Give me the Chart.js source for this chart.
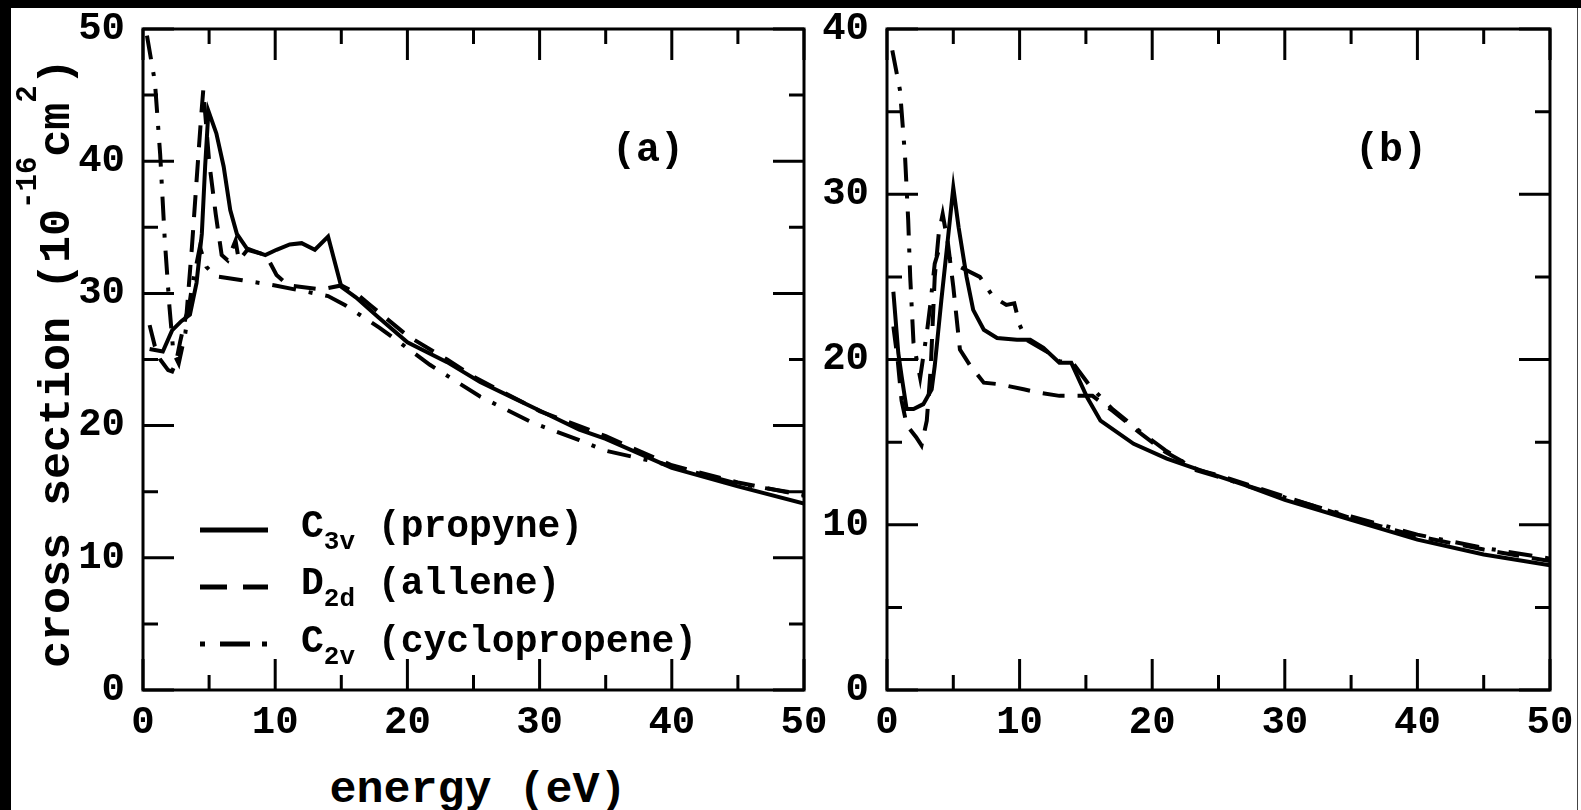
<!DOCTYPE html>
<html>
<head>
<meta charset="utf-8">
<script src="https://cdn.jsdelivr.net/npm/chart.js@4.4.0/dist/chart.umd.min.js"></script>
<style>
body{margin:0;width:1581px;height:810px;overflow:hidden;background:#fff;position:relative;font-family:"Liberation Mono",monospace;font-weight:bold;color:#000}
#topbar{position:absolute;left:0;top:0;width:1581px;height:8px;background:#000}
#leftbar{position:absolute;left:0;top:0;width:11px;height:810px;background:#000}
#rightline{position:absolute;left:1577px;top:8px;width:1px;height:802px;background:#444}
canvas{position:absolute;top:0}
#chartA{left:0}
#chartB{left:800px}
.txt{position:absolute;white-space:nowrap;line-height:1}
.sup{font-size:29px;position:relative;top:-33px}
.sub{font-size:26px;position:relative;top:12px}
.leg{position:absolute;left:200px}
</style>
</head>
<body>
<canvas id="chartA" width="850" height="760"></canvas>
<canvas id="chartB" width="781" height="760"></canvas>
<div id="topbar"></div>
<div id="leftbar"></div>
<div id="rightline"></div>

<div class="txt" style="left:35px;top:668px;font-size:45px;transform-origin:0 0;transform:rotate(-90deg)">cross section (10<span class="sup">-16</span>cm<span class="sup">2</span>)</div>
<div class="txt" style="left:478px;top:790px;font-size:45px;transform:translate(-50%,-50%)">energy (eV)</div>
<div class="txt" style="left:648px;top:151px;font-size:40px;transform:translate(-50%,-50%)">(a)</div>
<div class="txt" style="left:1391px;top:151px;font-size:40px;transform:translate(-50%,-50%)">(b)</div>

<!-- legend in panel (a) -->
<svg class="leg" style="top:525px" width="70" height="10"><line x1="0" y1="5" x2="68" y2="5" stroke="#000" stroke-width="5"/></svg>
<svg class="leg" style="top:582px" width="70" height="10"><line x1="0" y1="5" x2="68" y2="5" stroke="#000" stroke-width="5" stroke-dasharray="27 16"/></svg>
<svg class="leg" style="top:639px" width="70" height="10"><line x1="0" y1="5" x2="68" y2="5" stroke="#000" stroke-width="5" stroke-dasharray="5 15 30 12 5 100"/></svg>
<div class="txt" style="left:301px;top:508px;font-size:38px">C<span class="sub">3v</span> (propyne)</div>
<div class="txt" style="left:301px;top:565px;font-size:38px">D<span class="sub">2d</span> (allene)</div>
<div class="txt" style="left:301px;top:623px;font-size:38px">C<span class="sub">2v</span> (cyclopropene)</div>

<script>
// panel (a)
const aPropyneX = [0.5, 1.5, 2.2, 2.9, 3.55, 4.05, 4.45, 4.7, 4.95, 5.55, 6.1, 6.6, 7.1, 7.85, 8.4, 9.25, 10.1, 11.1, 12.0, 13.0, 14.0, 15.0, 16.1, 17.8, 20.0, 23.0, 25.5, 28.0, 30.5, 33.0, 35.0, 40.0, 45.0, 50.0];
const aPropyneY = [25.8, 25.6, 27.2, 27.9, 28.4, 30.8, 34.5, 39.6, 43.8, 42.1, 39.6, 36.3, 34.5, 33.4, 33.2, 32.9, 33.3, 33.7, 33.8, 33.3, 34.3, 30.5, 29.7, 28.2, 26.3, 24.8, 23.3, 22.1, 20.9, 19.7, 19.0, 16.8, 15.4, 14.1];
const aAlleneX = [0.5, 0.9, 1.3, 1.9, 2.2, 2.5, 2.8, 3.3, 3.7, 4.05, 4.4, 4.56, 5.0, 5.5, 5.95, 6.4, 7.0, 7.25, 7.9, 9.3, 10.1, 11.0, 13.5, 15.0, 16.0, 17.2, 20.0, 23.0, 25.0, 30.0, 35.0, 40.0, 45.0, 50.0];
const aAlleneY = [27.6, 26.0, 25.0, 24.2, 24.1, 24.8, 26.3, 28.5, 33.5, 38.5, 43.4, 45.4, 40.0, 36.0, 32.9, 32.5, 34.0, 32.5, 33.3, 32.9, 31.4, 30.6, 30.3, 30.6, 30.1, 29.1, 26.8, 25.0, 23.7, 21.1, 19.2, 17.0, 15.7, 14.7];
const aCycloX = [0.3, 0.9, 1.3, 1.65, 2.0, 2.3, 2.7, 3.2, 3.7, 4.3, 4.8, 5.5, 7.5, 10.0, 12.0, 14.0, 15.3, 17.9, 21.7, 25.5, 29.5, 33.0, 35.0, 39.0, 45.0, 50.0];
const aCycloY = [49.5, 46.0, 40.5, 34.0, 29.0, 25.5, 24.7, 27.0, 30.5, 33.5, 32.0, 31.3, 31.0, 30.6, 30.2, 29.8, 29.1, 27.4, 24.6, 22.2, 20.2, 18.9, 18.1, 17.2, 15.6, 14.8];

// panel (b)
const bPropyneX = [0.48, 0.85, 1.1, 1.48, 2.0, 2.74, 3.37, 3.6, 4.1, 4.5, 5.0, 5.4, 6.0, 6.5, 7.3, 8.3, 9.8, 10.8, 11.8, 13.0, 13.9, 15.1, 16.1, 18.6, 21.1, 23.6, 27.0, 30.0, 35.0, 40.0, 45.0, 50.0];
const bPropyneY = [24.1, 20.4, 19.0, 17.0, 17.0, 17.3, 18.2, 19.6, 23.6, 26.6, 30.4, 28.0, 25.0, 23.0, 21.8, 21.3, 21.2, 21.2, 20.7, 19.8, 19.8, 17.7, 16.3, 14.9, 14.0, 13.3, 12.4, 11.5, 10.3, 9.1, 8.2, 7.55];
const bAlleneX = [0.48, 0.8, 1.1, 1.5, 2.2, 2.6, 3.0, 3.3, 3.6, 3.9, 4.2, 4.6, 5.0, 5.5, 6.3, 7.3, 8.5, 10.3, 11.4, 13.0, 15.5, 17.0, 19.0, 21.0, 23.5, 25.0, 30.0, 35.0, 40.0, 45.0, 50.0];
const bAlleneY = [22.0, 20.0, 17.5, 16.0, 15.3, 14.8, 16.3, 19.5, 25.0, 27.6, 28.8, 27.0, 24.4, 20.6, 19.6, 18.6, 18.5, 18.2, 18.0, 17.8, 17.8, 16.9, 15.6, 14.4, 13.3, 13.0, 11.7, 10.4, 9.3, 8.5, 7.8];
const bCycloX = [0.4, 0.98, 1.36, 1.6, 1.75, 2.0, 2.5, 3.0, 3.25, 3.6, 3.9, 4.6, 5.5, 7.0, 8.0, 9.0, 9.6, 10.0, 10.5, 12.0, 13.0, 14.0, 15.3, 17.0, 19.0, 21.0, 23.3, 25.0, 30.0, 35.0, 40.0, 45.0, 50.0];
const bCycloY = [38.7, 36.3, 32.3, 28.4, 25.0, 21.0, 18.9, 21.6, 23.2, 25.8, 26.6, 26.2, 25.6, 25.0, 23.8, 23.3, 23.4, 22.1, 21.2, 20.5, 19.9, 19.8, 18.4, 17.0, 15.7, 14.5, 13.3, 12.9, 11.65, 10.5, 9.4, 8.6, 7.95];

const xMax = 50;
const yMaxA = 50;
const yMaxB = 40;
const tickStep = 10;

const solid = [];
const dashed = [22, 13];
const dashDot = [24, 13, 4, 13];
const tickFont = { family: "'Liberation Mono', monospace", size: 39, weight: 'bold' };

// frame + inward major/minor ticks on all four sides
const frameTicks = {
  id: 'frameTicks',
  afterDraw(chart) {
    const { ctx, chartArea: a, scales: { x, y } } = chart;
    ctx.save();
    ctx.strokeStyle = '#000';
    ctx.lineWidth = 3;
    ctx.strokeRect(a.left, a.top, a.right - a.left, a.bottom - a.top);
    ctx.beginPath();
    for (let v = 0; v <= x.max; v += 5) {
      const len = v % 10 === 0 ? 31 : 15;
      const px = x.getPixelForValue(v);
      ctx.moveTo(px, a.bottom); ctx.lineTo(px, a.bottom - len);
      ctx.moveTo(px, a.top); ctx.lineTo(px, a.top + len);
    }
    for (let v = 0; v <= y.max; v += 5) {
      const len = v % 10 === 0 ? 31 : 15;
      const py = y.getPixelForValue(v);
      ctx.moveTo(a.left, py); ctx.lineTo(a.left + len, py);
      ctx.moveTo(a.right, py); ctx.lineTo(a.right - len, py);
    }
    ctx.stroke();
    ctx.restore();
  }
};

const series = (xs, ys, dash) => ({
  data: xs.map((v, i) => ({ x: v, y: ys[i] })),
  borderColor: '#000',
  borderWidth: 4,
  borderDash: dash,
  borderJoinStyle: 'miter',
  pointRadius: 0,
  fill: false,
  tension: 0
});

// plot box is fixed by hand: y axis width + layout padding, x axis height
const makeChart = (id, yMax, yAxisWidth, rightPad, sets) => new Chart(document.getElementById(id), {
  type: 'line',
  data: { datasets: sets },
  options: {
    responsive: false,
    animation: false,
    devicePixelRatio: 1,
    layout: { autoPadding: false, padding: { left: 0, top: 29, right: rightPad, bottom: 0 } },
    plugins: { legend: { display: false }, tooltip: { enabled: false } },
    scales: {
      x: {
        type: 'linear', min: 0, max: xMax,
        ticks: { stepSize: tickStep, font: tickFont, color: '#000', padding: 10, maxRotation: 0, autoSkip: false },
        grid: { display: false, drawTicks: false },
        border: { display: false },
        afterFit: (s) => { s.height = 70; s.paddingLeft = 0; s.paddingRight = 0; }
      },
      y: {
        type: 'linear', min: 0, max: yMax,
        ticks: { stepSize: tickStep, font: tickFont, color: '#000', padding: 18, autoSkip: false },
        grid: { display: false, drawTicks: false },
        border: { display: false },
        afterFit: (s) => { s.width = yAxisWidth; s.paddingTop = 0; s.paddingBottom = 0; }
      }
    }
  },
  plugins: [frameTicks]
});

makeChart('chartA', yMaxA, 143, 46, [
  series(aPropyneX, aPropyneY, solid),
  series(aAlleneX, aAlleneY, dashed),
  series(aCycloX, aCycloY, dashDot)
]);
makeChart('chartB', yMaxB, 87, 31, [
  series(bPropyneX, bPropyneY, solid),
  series(bAlleneX, bAlleneY, dashed),
  series(bCycloX, bCycloY, dashDot)
]);
</script>
</body>
</html>
